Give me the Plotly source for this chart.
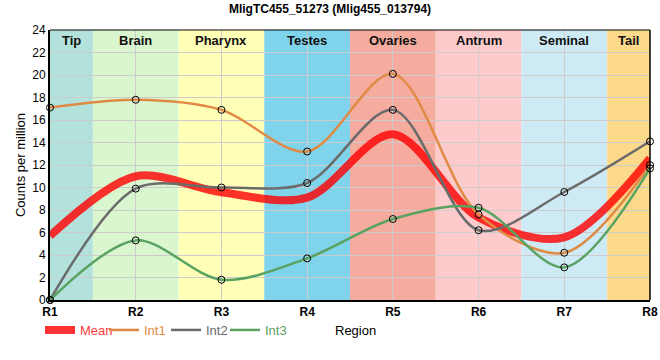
import plotly.graph_objects as go

regions = ["R1", "R2", "R3", "R4", "R5", "R6", "R7", "R8"]
int1 = [17.1, 17.8, 16.9, 13.2, 20.1, 7.6, 4.2, 12.0]
int2 = [0.0, 9.9, 10.0, 10.4, 16.9, 6.2, 9.6, 14.1]
int3 = [0.0, 5.3, 1.8, 3.7, 7.2, 8.2, 2.9, 11.7]
mean = [round((a + b + c) / 3, 2) for a, b, c in zip(int1, int2, int3)]

band_names = ["Tip", "Brain", "Pharynx", "Testes", "Ovaries", "Antrum", "Seminal", "Tail"]
band_colors = ["#b3e2dc", "#d9f6cf", "#ffffb8", "#7fd3ea", "#f5ab9d", "#fdcbcb", "#cdeaf5", "#fdd98c"]

xs = list(range(1, len(regions) + 1))
SM = 0.9

fig = go.Figure()

shapes = []
annotations = []
for i, (nm, col) in enumerate(zip(band_names, band_colors)):
    x0 = max(1, xs[i] - 0.5)
    x1 = min(len(regions), xs[i] + 0.5)
    shapes.append(dict(type="rect", xref="x", yref="paper", x0=x0, x1=x1, y0=0, y1=1,
                       fillcolor=col, line=dict(width=0), layer="below"))
    annotations.append(dict(x=(x0 + x1) / 2, y=23.9, xref="x", yref="y", text="<b>%s</b>" % nm,
                            showarrow=False, yanchor="top",
                            font=dict(family="Arial, Liberation Sans", size=13, color="#111")))

annotations.append(dict(x=(333 - 50) / 600.0, y=(300 - 330) / 270.0, xref="paper", yref="paper",
                        text="Region", showarrow=False, xanchor="left", yanchor="middle",
                        font=dict(size=13)))

legend_names = ["legend", "legend2", "legend3", "legend4"]
legend_x = [40, 104, 166, 225]

fig.add_trace(go.Scatter(x=xs, y=mean, mode="lines", name='<span style="color:#ff4040">Mean</span>',
                         line=dict(color="rgba(255,0,0,0.8)", width=8, shape="spline", smoothing=SM),
                         cliponaxis=False, legend=legend_names[0]))
series = [("Int1", int1, "#e08b45"), ("Int2", int2, "#6b6b6b"), ("Int3", int3, "#5aa262")]
for k, (nm, vals, col) in enumerate(series):
    fig.add_trace(go.Scatter(x=xs, y=vals, mode="lines",
                             name='<span style="color:%s">%s</span>' % (col, nm),
                             line=dict(color=col, width=2.5, shape="spline", smoothing=SM),
                             cliponaxis=False, legend=legend_names[k + 1]))
for nm, vals, col in series:
    fig.add_trace(go.Scatter(x=xs, y=vals, mode="markers", showlegend=False, hoverinfo="skip",
                             marker=dict(size=7, color="rgba(0,0,0,0)", line=dict(color="black", width=1)),
                             cliponaxis=False))

leg_common = dict(orientation="h", xref="container", yref="container", xanchor="left", yanchor="middle",
                  font=dict(size=13), bgcolor="rgba(0,0,0,0)", itemwidth=30, y=30 / 360.0)

fig.update_layout(
    width=660, height=360,
    margin=dict(l=50, r=10, t=30, b=60, autoexpand=False),
    paper_bgcolor="white", plot_bgcolor="white",
    title=dict(text="<b>MligTC455_51273 (Mlig455_013794)</b>", x=0.5, xanchor="center",
               y=1, yanchor="top", pad=dict(t=5), font=dict(family="Arial, Liberation Sans", size=12, color="black")),
    font=dict(family="Arial, Liberation Sans", size=12, color="black"),
    shapes=shapes,
    annotations=annotations,
    legend=dict(leg_common, x=legend_x[0] / 660.0),
    legend2=dict(leg_common, x=legend_x[1] / 660.0),
    legend3=dict(leg_common, x=legend_x[2] / 660.0),
    legend4=dict(leg_common, x=legend_x[3] / 660.0),
    showlegend=True,
)

fig.update_xaxes(range=[1, 8], tickvals=xs, ticktext=["<b>%s</b>" % r for r in regions],
                 showgrid=True, gridcolor="#cccccc", gridwidth=1, automargin=False,
                 showline=True, linecolor="black", linewidth=2, mirror=False,
                 ticks="", tickfont=dict(size=12), zeroline=False)
fig.update_yaxes(range=[0, 24], dtick=2, showgrid=True, gridcolor="#cccccc", gridwidth=1, automargin=False,
                 showline=True, linecolor="black", linewidth=2,
                 ticks="", tickfont=dict(size=12), zeroline=False,
                 title=dict(text="Counts per million", font=dict(size=13), standoff=4))

fig.add_shape(type="line", xref="paper", yref="paper", x0=0, x1=1, y0=1, y1=1, line=dict(color="black", width=1))
fig.add_shape(type="line", xref="paper", yref="paper", x0=1, x1=1, y0=0, y1=1, line=dict(color="black", width=1.5))

fig.write_html("out.html", config={"displayModeBar": False},
               post_script="document.body.style.margin='0';document.body.style.overflow='hidden';")
